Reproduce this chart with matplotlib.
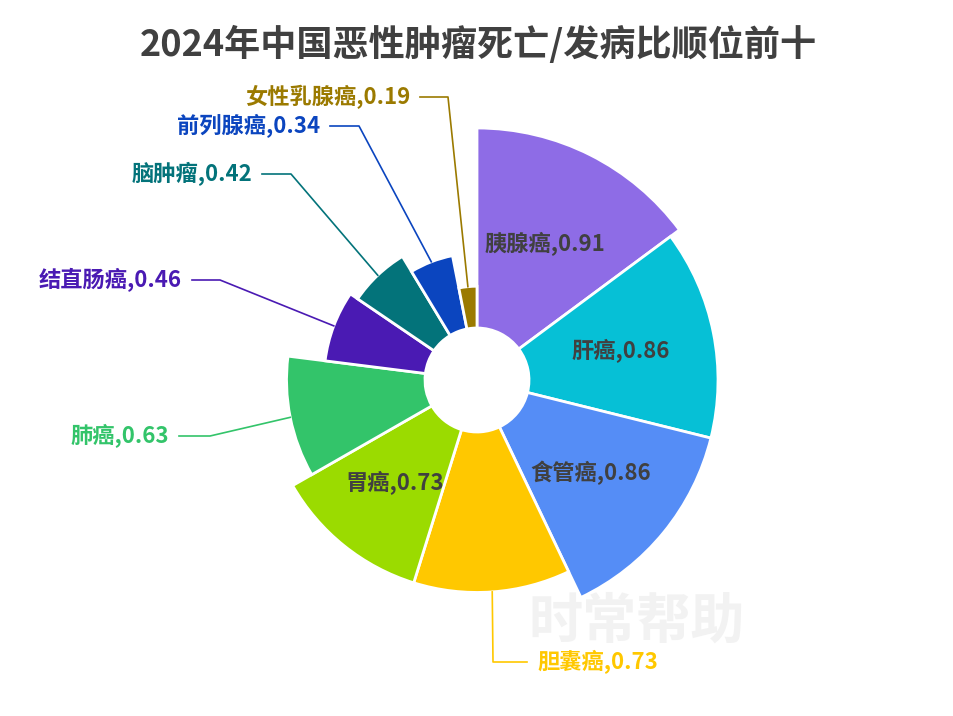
import matplotlib
matplotlib.use('Agg')
import matplotlib.pyplot as plt
from matplotlib.patches import Wedge
import numpy as np

plt.rcParams['font.family'] = ['Noto Sans CJK SC', 'DejaVu Sans']

# data
names = ['胰腺癌', '肝癌', '食管癌', '胆囊癌', '胃癌', '肺癌', '结直肠癌', '脑肿瘤', '前列腺癌', '女性乳腺癌']
values = [0.91, 0.86, 0.86, 0.73, 0.73, 0.63, 0.46, 0.42, 0.34, 0.19]
colors = ['#8E6CE6', '#06C0D6', '#558DF6', '#FFC800', '#9BDB00',
          '#33C46A', '#4A1AB3', '#03737A', '#0B45BF', '#9B7A00']
inside = [True, True, True, False, True, False, False, False, False, False]

# layout (pixel space, y measured from top)
W, H = 954, 716
cx, cy = 477, 380
r0, r1 = 52, 252
# elbow point of the leader line, its end, and the text anchor for outside labels
outer_layout = {
    '胆囊癌': ((493, 662), (527, 662), (537, 662), 'left'),
    '肺癌': ((210, 436), (179, 436), (169, 436), 'right'),
    '结直肠癌': ((220, 280), (192, 280), (182, 280), 'right'),
    '脑肿瘤': ((291, 174), (262, 174), (252, 174), 'right'),
    '前列腺癌': ((359, 126), (330, 126), (320, 126), 'right'),
    '女性乳腺癌': ((448, 97), (420, 97), (410, 97), 'right'),
}

fig = plt.figure(figsize=(W / 100, H / 100), dpi=100)
fig.patch.set_facecolor('white')
ax = fig.add_axes([0, 0, 1, 1])
ax.set_xlim(0, W)
ax.set_ylim(0, H)
ax.axis('off')

cyb = H - cy
total = sum(values)
vmax = max(values)

# watermark
ax.text(637, H - 622, '时常帮助', fontsize=39, fontweight='bold', color='#F2F2F2',
        ha='center', va='center', zorder=0)

start = 90.0
for name, v, c, ins in zip(names, values, colors, inside):
    span = v / total * 360
    t2 = start
    t1 = start - span
    r = r0 + (r1 - r0) * v / vmax
    ax.add_patch(Wedge((cx, cyb), r, t1, t2, width=r - r0, facecolor=c,
                       edgecolor='white', linewidth=2, zorder=2))
    mid = np.deg2rad((t1 + t2) / 2)
    label = f'{name},{v:.2f}'
    if ins:
        rm = (r0 + r) / 2
        ax.text(cx + rm * np.cos(mid), cyb + rm * np.sin(mid), label,
                fontsize=16, fontweight='bold', color='#404040',
                ha='center', va='center', zorder=3)
    else:
        elbow, end, tpos, ha = outer_layout[name]
        xs = [cx + r * np.cos(mid), elbow[0], end[0]]
        ys = [cyb + r * np.sin(mid), H - elbow[1], H - end[1]]
        ax.plot(xs, ys, color=c, linewidth=1.2, zorder=3)
        ax.text(tpos[0], H - tpos[1], label, fontsize=16, fontweight='bold',
                color=c, ha=ha, va='center', zorder=3)
    start = t1

ax.text(W / 2 + 1, H - 45, '2024年中国恶性肿瘤死亡/发病比顺位前十', fontsize=26,
        fontweight='bold', color='#404040', ha='center', va='center')

plt.savefig('out.png', dpi=100, facecolor='white')
